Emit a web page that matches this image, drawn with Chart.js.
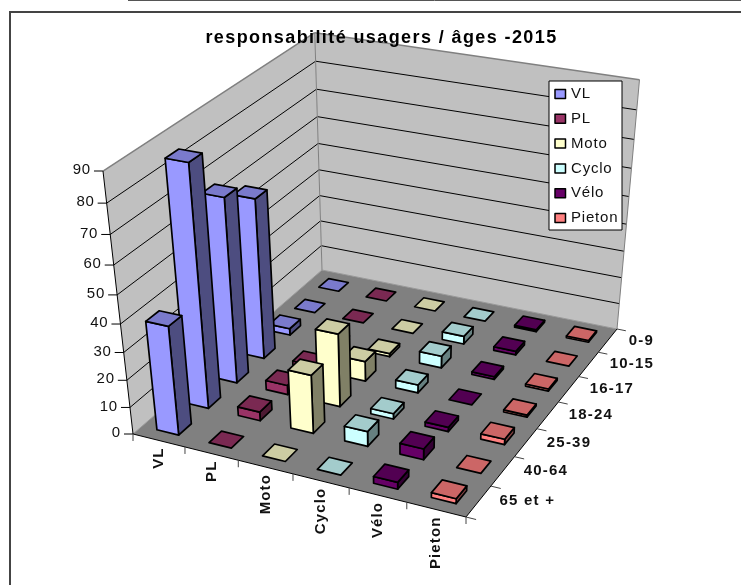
<!DOCTYPE html>
<html>
<head>
<meta charset="utf-8">
<title>responsabilité usagers / âges -2015</title>
<script src="https://cdn.jsdelivr.net/npm/chart.js@4/dist/chart.umd.min.js"></script>
<style>
  html, body { margin: 0; padding: 0; background: #fff; }
  canvas { display: block; }
</style>
</head>
<body>
<canvas id="chart" width="741" height="585"></canvas>
<script>
const categories = ['VL', 'PL', 'Moto', 'Cyclo', 'Vélo', 'Pieton'];
const ages = ['0-9', '10-15', '16-17', '18-24', '25-39', '40-64', '65 et +'];
const heightTicks = [0, 10, 20, 30, 40, 50, 60, 70, 80, 90];

// values per age group, same order as ages
const vl = [0, 0, 2.5, 59, 67, 85.7, 39.5];
const pl = [0, 0, 0, 1.5, 3.5, 3.3, 0];
const moto = [0, 0, 1.2, 7.5, 27, 21.5, 0];
const cyclo = [0, 3, 4.5, 3, 2, 5.5, 0];
const velo = [0.7, 1.4, 1, 0, 1.6, 4, 2.5];
const pieton = [0.7, 0, 0.8, 0.8, 2, 0, 1.8];

const seriesValues = [vl, pl, moto, cyclo, velo, pieton];
const fronts = ['#9999FF', '#993366', '#FFFFCC', '#CCFFFF', '#660066', '#FF8080'];
const tops = ['#7A7ACC', '#7A2952', '#CCCCA3', '#A3CCCC', '#520052', '#CC6666'];
const sides = ['#4D4D80', '#4D1A33', '#808066', '#668080', '#330033', '#804040'];

// floor corners on the page and where the verticals meet
const FL = [133, 434], FR = [466, 517], BR = [617, 329], BL = [322, 270];
const VP = [398, 2757];
const WALL_LIFT = -0.1017;
const BAR_SHARE = 0.42;

function floorMatrix() {
  const dx1 = FR[0] - BR[0], dx2 = BL[0] - BR[0], sx = FL[0] - FR[0] + BR[0] - BL[0];
  const dy1 = FR[1] - BR[1], dy2 = BL[1] - BR[1], sy = FL[1] - FR[1] + BR[1] - BL[1];
  const den = dx1 * dy2 - dx2 * dy1;
  const g = (sx * dy2 - dx2 * sy) / den;
  const h = (dx1 * sy - sx * dy1) / den;
  return {
    a: FR[0] - FL[0] + g * FR[0], b: BL[0] - FL[0] + h * BL[0], c: FL[0],
    d: FR[1] - FL[1] + g * FR[1], e: BL[1] - FL[1] + h * BL[1], f: FL[1],
    g, h
  };
}
const M = floorMatrix();

// u across the categories, v towards the back, t up the wall, all 0..1
function project(u, v, t) {
  const w = M.g * u + M.h * v + 1 + t * WALL_LIFT;
  return [
    (M.a * u + M.b * v + M.c + t * WALL_LIFT * VP[0]) / w,
    (M.d * u + M.e * v + M.f + t * WALL_LIFT * VP[1]) / w
  ];
}

function poly(ctx, pts, fill, stroke, lw) {
  ctx.beginPath();
  pts.forEach((p, i) => i ? ctx.lineTo(p[0], p[1]) : ctx.moveTo(p[0], p[1]));
  ctx.closePath();
  if (fill) { ctx.fillStyle = fill; ctx.fill(); }
  if (stroke) { ctx.strokeStyle = stroke; ctx.lineWidth = lw; ctx.stroke(); }
}

function line(ctx, a, b, color, lw) {
  ctx.beginPath();
  ctx.moveTo(a[0], a[1]);
  ctx.lineTo(b[0], b[1]);
  ctx.strokeStyle = color;
  ctx.lineWidth = lw;
  ctx.stroke();
}

const scene = {
  id: 'scene',
  beforeDraw(chart) {
    const ctx = chart.ctx;
    const sx = chart.scales.x, sy = chart.scales.y, sh = chart.scales.h;
    const fracX = val => (sx.getPixelForValue(val) - sx.left) / sx.width;
    const fracY = val => (sy.bottom - sy.getPixelForValue(val)) / sy.height;
    const fracH = val => (sh.bottom - sh.getPixelForValue(val)) / sh.height;

    ctx.save();
    ctx.lineJoin = 'round';
    ctx.fillStyle = '#fff';
    ctx.fillRect(0, 0, chart.width, chart.height);

    // bit of the table above the chart, and the chart frame
    line(ctx, [128, 0.5], [741, 0.5], '#555', 1);
    line(ctx, [9, 12], [741, 12], '#444', 2);
    line(ctx, [10, 11], [10, 585], '#444', 2);

    // walls and floor
    poly(ctx, [project(0, 0, 0), project(0, 1, 0), project(0, 1, 1), project(0, 0, 1)], '#C0C0C0');
    poly(ctx, [project(0, 1, 0), project(1, 1, 0), project(1, 1, 1), project(0, 1, 1)], '#C0C0C0');
    poly(ctx, [project(0, 0, 0), project(1, 0, 0), project(1, 1, 0), project(0, 1, 0)], '#808080');

    heightTicks.forEach(val => {
      const t = fracH(val);
      if (val > 0 && val < 90) {
        line(ctx, project(0, 0, t), project(0, 1, t), '#000', 1);
        line(ctx, project(0, 1, t), project(1, 1, t), '#000', 1);
      }
      const p = project(0, 0, t);
      line(ctx, [p[0] - 9, p[1]], p, '#000', 1);
      ctx.fillStyle = '#111';
      ctx.font = '15px "Liberation Sans", Arial, sans-serif';
      ctx.textAlign = 'right';
      ctx.textBaseline = 'middle';
      ctx.letterSpacing = '0.8px';
      ctx.fillText(String(val), p[0] - 12, p[1] - 1);
    });

    line(ctx, project(0, 0, 1), project(0, 1, 1), '#808080', 1.5);
    line(ctx, project(0, 1, 1), project(1, 1, 1), '#808080', 1.5);
    line(ctx, project(1, 1, 1), project(1, 1, 0), '#808080', 1);
    line(ctx, project(0, 1, 1), project(0, 1, 0), '#808080', 1);
    line(ctx, project(0, 1, 0), project(1, 1, 0), '#999', 1);
    line(ctx, project(0, 0, 0), project(0, 1, 0), '#999', 1);
    line(ctx, project(0, 0, 0), project(0, 0, 1), '#000', 1);
    line(ctx, project(0, 0, 0), project(1, 0, 0), '#000', 1);
    line(ctx, project(1, 0, 0), project(1, 1, 0), '#000', 1);

    // bars, back rows first and left to right
    const hu = BAR_SHARE / categories.length / 2;
    const hv = BAR_SHARE / ages.length / 2;
    ages.forEach(age => {
      chart.data.datasets.forEach((ds, si) => {
        const item = ds.data.find(d => d.y === age);
        const u = fracX(item.x), v = fracY(item.y), t = fracH(item.v);
        const u0 = u - hu, u1 = u + hu, v0 = v - hv, v1 = v + hv;
        if (item.v > 0) {
          poly(ctx, [project(u1, v0, 0), project(u1, v1, 0), project(u1, v1, t), project(u1, v0, t)], sides[si], '#000', 1.7);
          poly(ctx, [project(u0, v0, 0), project(u1, v0, 0), project(u1, v0, t), project(u0, v0, t)], fronts[si], '#000', 1.7);
        }
        poly(ctx, [project(u0, v0, t), project(u1, v0, t), project(u1, v1, t), project(u0, v1, t)], tops[si], '#000', 1.7);
      });
    });

    // category axis
    ctx.fillStyle = '#111';
    for (let i = 0; i <= categories.length; i++) {
      const p = project(i / categories.length, 0, 0);
      line(ctx, p, [p[0], p[1] + 7], '#444', 1);
    }
    categories.forEach(cat => {
      const p = project(fracX(cat), 0, 0);
      ctx.save();
      ctx.translate(p[0], p[1] + 7);
      ctx.rotate(-Math.PI / 2);
      ctx.font = 'bold 15px "Liberation Sans", Arial, sans-serif';
      ctx.textAlign = 'right';
      ctx.textBaseline = 'middle';
      ctx.letterSpacing = '1.1px';
      ctx.fillText(cat, 0, 0);
      ctx.restore();
    });

    // age axis on the right edge
    for (let i = 0; i <= ages.length; i++) {
      const p = project(1, i / ages.length, 0);
      const q = project(1.028, i / ages.length, 0);
      line(ctx, p, q, '#444', 1);
    }
    ages.forEach(age => {
      const p = project(1, fracY(age), 0);
      ctx.font = 'bold 15px "Liberation Sans", Arial, sans-serif';
      ctx.textAlign = 'left';
      ctx.textBaseline = 'middle';
      ctx.letterSpacing = '1.2px';
      ctx.fillText(age, p[0] + 21, p[1]);
    });

    // legend
    poly(ctx, [[549, 81], [622, 81], [622, 230], [549, 230]], '#fff', '#000', 1);
    chart.data.datasets.forEach((ds, si) => {
      const y = 94 + si * 24.8;
      poly(ctx, [[555, y - 4.5], [565.5, y - 4.5], [565.5, y + 4.5], [555, y + 4.5]], fronts[si], '#000', 1.5);
      ctx.fillStyle = '#111';
      ctx.font = '15px "Liberation Sans", Arial, sans-serif';
      ctx.textAlign = 'left';
      ctx.textBaseline = 'middle';
      ctx.letterSpacing = '0.8px';
      ctx.fillText(ds.label, 571, y);
    });

    ctx.restore();
    ctx.letterSpacing = '1.4px';
  }
};

new Chart(document.getElementById('chart'), {
  type: 'scatter',
  data: {
    datasets: categories.map((cat, si) => ({
      label: cat,
      pointRadius: 0,
      data: ages.map((age, ai) => ({ x: cat, y: age, v: seriesValues[si][ai] }))
    }))
  },
  options: {
    responsive: false,
    animation: false,
    layout: { padding: { left: 22, top: 27 } },
    plugins: {
      legend: { display: false },
      tooltip: { enabled: false },
      title: {
        display: true,
        text: 'responsabilité usagers / âges -2015',
        color: '#000',
        padding: 0,
        font: { family: '"Liberation Sans", Arial, sans-serif', size: 18, weight: 'bold' }
      }
    },
    scales: {
      x: { type: 'category', labels: categories, offset: true, display: false },
      y: { type: 'category', labels: ages, offset: true, display: false },
      h: { type: 'linear', axis: 'y', min: 0, max: 90, display: false }
    }
  },
  plugins: [scene]
});
</script>
</body>
</html>
